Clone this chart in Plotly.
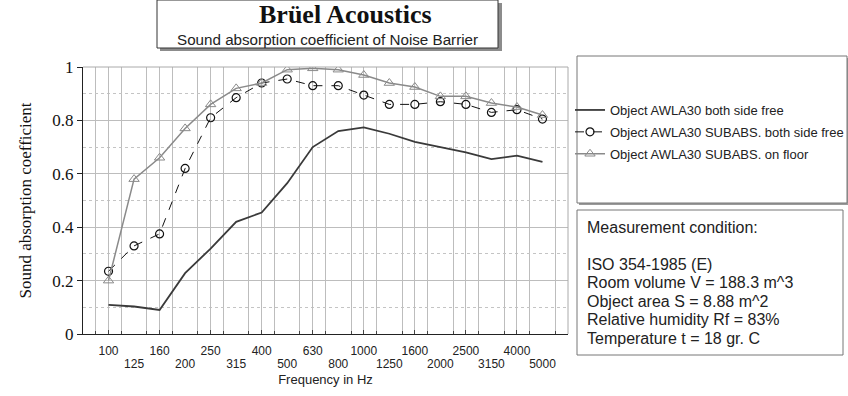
import plotly.graph_objects as go

freqs = ["100", "125", "160", "200", "250", "315", "400", "500", "630", "800",
         "1000", "1250", "1600", "2000", "2500", "3150", "4000", "5000"]
free = [0.109, 0.103, 0.090, 0.228, 0.320, 0.420, 0.455, 0.565, 0.700, 0.760,
        0.774, 0.750, 0.720, 0.700, 0.680, 0.655, 0.668, 0.645]
subabs_free = [0.235, 0.330, 0.375, 0.620, 0.810, 0.885, 0.940, 0.955, 0.930, 0.930,
               0.895, 0.860, 0.860, 0.870, 0.860, 0.830, 0.840, 0.805]
subabs_floor = [0.200, 0.580, 0.660, 0.770, 0.860, 0.920, 0.940, 0.990, 0.995, 0.990,
                0.970, 0.940, 0.925, 0.890, 0.890, 0.865, 0.850, 0.820]
names = ["Object AWLA30 both side free",
         "Object AWLA30 SUBABS. both side free",
         "Object AWLA30 SUBABS. on floor"]
yticks = [0, 0.2, 0.4, 0.6, 0.8, 1]
ytext = ["0", "0.2", "0.4", "0.6", "0.8", "1"]
conditions = ["Measurement condition:", "", "ISO 354-1985 (E)",
              "Room volume V = 188.3 m^3", "Object area S = 8.88 m^2",
              "Relative humidity Rf = 83%", "Temperature t = 18 gr. C"]

W, H = 848, 396
PL, PR, PT, PB = 83, 568, 67, 334


def px(x):
    return (x - PL) / (PR - PL)


def py(y):
    return (PB - y) / (PB - PT)


idx = list(range(len(freqs)))
SANS = "Liberation Sans, Arial, sans-serif"
SERIF = "Liberation Serif, Times New Roman, serif"

fig = go.Figure()
fig.add_trace(go.Scatter(x=idx, y=free, name=names[0], mode="lines",
                         line=dict(color="#3a3a3a", width=1.8), legendgroup="a"))
fig.add_trace(go.Scatter(x=idx, y=subabs_free, name=names[1], mode="lines+markers",
                         line=dict(color="#111111", width=1, dash="dash"),
                         marker=dict(symbol="circle-open", size=8, color="#111111",
                                     line=dict(width=1.2)), legendgroup="b"))
fig.add_trace(go.Scatter(x=idx, y=subabs_floor, name=names[2], mode="lines+markers",
                         line=dict(color="#8a8a8a", width=1.5),
                         marker=dict(symbol="triangle-up-open", size=9, color="#8a8a8a",
                                     line=dict(width=1)), legendgroup="c"))
# invisible trace to host the lower row of tick labels
fig.add_trace(go.Scatter(x=idx, y=[None] * len(idx), xaxis="x2", showlegend=False,
                         hoverinfo="skip"))

shapes = []
# title box with shadow
shapes.append(dict(type="rect", xref="paper", yref="paper", layer="below",
                   x0=px(160), x1=px(502), y0=py(51), y1=py(3),
                   fillcolor="#8c8c8c", line=dict(width=0)))
shapes.append(dict(type="rect", xref="paper", yref="paper", layer="below",
                   x0=px(157), x1=px(498), y0=py(48), y1=py(0),
                   fillcolor="white", line=dict(color="#333333", width=1)))
# legend box
shapes.append(dict(type="rect", xref="paper", yref="paper", layer="below",
                   x0=px(579), x1=px(849), y0=py(205), y1=py(58),
                   fillcolor="#9a9a9a", line=dict(width=0)))
shapes.append(dict(type="rect", xref="paper", yref="paper", layer="below",
                   x0=px(577), x1=px(847), y0=py(203), y1=py(56),
                   fillcolor="white", line=dict(color="#777777", width=1)))
# measurement box
shapes.append(dict(type="rect", xref="paper", yref="paper", layer="below",
                   x0=px(577), x1=px(843), y0=py(355), y1=py(210),
                   fillcolor="white", line=dict(color="#777777", width=1)))
# light top / right frame
shapes.append(dict(type="line", xref="paper", yref="paper", x0=0, x1=1, y0=1, y1=1,
                   line=dict(color="#aaaaaa", width=1)))
shapes.append(dict(type="line", xref="paper", yref="paper", x0=1, x1=1, y0=0, y1=1,
                   line=dict(color="#aaaaaa", width=1)))

annotations = [
    dict(text="<b>Brüel Acoustics</b>", xref="paper", yref="paper", x=px(345), y=py(30),
         xanchor="center", yanchor="bottom", showarrow=False, borderpad=0,
         font=dict(family=SERIF, size=26, color="#111111")),
    dict(text="Sound absorption coefficient of Noise Barrier", xref="paper", yref="paper",
         x=px(327), y=py(30), xanchor="center", yanchor="top", showarrow=False,
         borderpad=0, font=dict(family=SANS, size=15.2, color="#222222")),
]
for i, line in enumerate(conditions):
    if line:
        annotations.append(dict(text=line, xref="paper", yref="paper",
                                x=px(585), y=py(227 + 18.5 * i),
                                xanchor="left", yanchor="middle", align="left",
                                showarrow=False,
                                font=dict(family=SANS, size=16, color="#222222")))

fig.update_layout(
    width=W, height=H, margin=dict(l=PL, r=W - PR, t=PT, b=H - PB, autoexpand=False),
    paper_bgcolor="white", plot_bgcolor="white",
    shapes=shapes, annotations=annotations,
    showlegend=True,
    legend=dict(xref="container", yref="container", x=570 / W, y=1 - 95 / H,
                xanchor="left", yanchor="top",
                bgcolor="rgba(0,0,0,0)", borderwidth=0,
                traceorder="grouped", tracegroupgap=2, itemwidth=30,
                font=dict(family=SANS, size=13, color="#222222")),
    xaxis=dict(range=[-1, 18], tickmode="array", tickvals=idx[0::2], ticktext=freqs[0::2],
               showgrid=True, gridcolor="#bdbdbd", gridwidth=1,
               minor=dict(tickmode="array", tickvals=[i + 0.5 for i in range(-1, 18)],
                          showgrid=True, gridcolor="#bdbdbd", gridwidth=1,
                          ticks="inside", ticklen=3, tickcolor="#444"),
               ticks="inside", ticklen=4, tickcolor="#444",
               showline=True, linecolor="#222222", linewidth=1.2,
               mirror=False, zeroline=False,
               tickfont=dict(family=SANS, size=12, color="#222222"),
               ticklabelstandoff=5),
    xaxis2=dict(range=[-1, 18], overlaying="x", anchor="y", side="bottom",
                tickmode="array", tickvals=idx[1::2], ticktext=freqs[1::2],
                showgrid=False, ticks="", showline=False, zeroline=False,
                tickfont=dict(family=SANS, size=12, color="#222222"),
                ticklabelstandoff=21,
                title=dict(text="Frequency in Hz", standoff=4,
                           font=dict(family=SANS, size=13, color="#222222"))),
    yaxis=dict(range=[0, 1], tickmode="array", tickvals=yticks, ticktext=ytext,
               showgrid=True, gridcolor="#bdbdbd", gridwidth=1,
               minor=dict(tickmode="array", tickvals=[0.1, 0.3, 0.5, 0.7, 0.9],
                          showgrid=True, gridcolor="#c4c4c4", gridwidth=1, griddash="dot"),
               ticks="outside", ticklen=5, tickcolor="#222",
               showline=True, linecolor="#222222", linewidth=1.2,
               zeroline=False,
               tickfont=dict(family=SERIF, size=17, color="#111111"),
               title=dict(text="Sound absorption coefficient", standoff=16,
                          font=dict(family=SERIF, size=17, color="#111111"))),
)

fig.write_html("out.html")
